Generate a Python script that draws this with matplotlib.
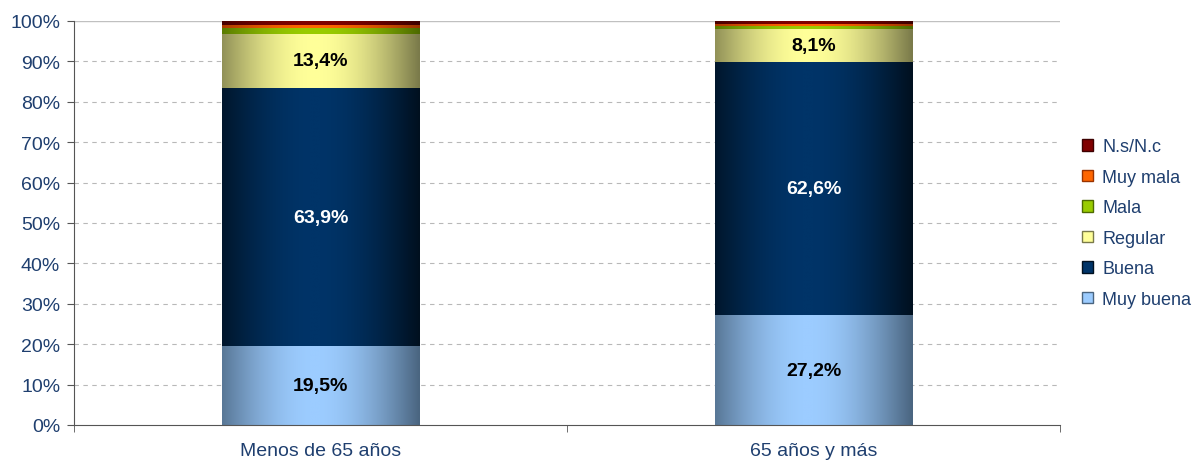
import numpy as np
import matplotlib

matplotlib.use("Agg")
import matplotlib.pyplot as plt
from matplotlib.colors import LinearSegmentedColormap
from matplotlib.patches import Patch

plt.rcParams["font.family"] = ["Liberation Sans", "DejaVu Sans"]

categories = ["Menos de 65 años", "65 años y más"]
series = ["Muy buena", "Buena", "Regular", "Mala", "Muy mala", "N.s/N.c"]
muy_buena = [19.5, 27.2]
buena = [63.9, 62.6]
regular = [13.4, 8.1]
mala = [1.5, 0.8]
muy_mala = [0.8, 0.5]
nsnc = [0.9, 0.8]
values = [muy_buena, buena, regular, mala, muy_mala, nsnc]
show_label = [True, True, True, False, False, False]

# (edge colour, centre colour) for the horizontal gradient of each series
grad = [
    ("#4a6580", "#9cccff"),
    ("#00101f", "#003468"),
    ("#7a7a4a", "#ffff99"),
    ("#4d6a00", "#99cc00"),
    ("#993300", "#ff6600"),
    ("#3d0000", "#800000"),
]
label_colors = ["black", "white", "black"]
txt_color = "#1f3f6f"

fig = plt.figure(figsize=(12.02, 4.64), dpi=100)
ax = fig.add_axes([0.0616, 0.0819, 0.8203, 0.8707])

x = np.arange(len(categories))
width = 0.4
bottom = np.zeros(len(categories))
gx = np.linspace(0, 1, 200)
profile = 1 - np.abs(gx - 0.47) / 0.53
profile = np.sin(np.clip(profile, 0, 1) * np.pi / 2)
for i, vals in enumerate(values):
    bars = ax.bar(x, vals, width, bottom=bottom, color="none", edgecolor="none")
    cmap = LinearSegmentedColormap.from_list(series[i], [grad[i][0], grad[i][1]])
    for b in bars:
        x0, y0 = b.get_x(), b.get_y()
        im = ax.imshow(
            profile[np.newaxis, :],
            cmap=cmap,
            vmin=0,
            vmax=1,
            aspect="auto",
            extent=(x0, x0 + b.get_width(), y0, y0 + b.get_height()),
            zorder=2,
            interpolation="bilinear",
        )
        im.set_clip_path(b)
    if show_label[i]:
        for xi, v, b0 in zip(x, vals, bottom):
            ax.text(
                xi,
                b0 + v / 2,
                f"{v:.1f}%".replace(".", ","),
                ha="center",
                va="center",
                fontsize=14,
                fontweight="bold",
                color=label_colors[i],
                zorder=3,
            )
    bottom += np.array(vals)

ax.set_xlim(-0.5, len(categories) - 0.5)
ax.set_ylim(0, 100)
ax.set_yticks(np.arange(0, 101, 10))
ax.set_yticklabels([f"{t}%" for t in range(0, 101, 10)])
ax.set_xticks(x)
ax.set_xticklabels(categories)
ax.set_xticks([-0.5, 0.5, 1.5], minor=True)
ax.tick_params(axis="x", which="major", length=0, labelsize=14, colors=txt_color, pad=12)
ax.tick_params(axis="x", which="minor", length=5, color="#555555")
ax.tick_params(axis="y", length=5, labelsize=14, colors=txt_color, color="#555555", pad=5)
for t in np.arange(10, 100, 10):
    ax.axhline(t, color="#b8b8b8", linestyle=(0, (4, 4)), linewidth=0.8, zorder=1)
ax.axhline(100, color="#c0c0c0", linewidth=1.0, zorder=1)
for s in ["top", "right"]:
    ax.spines[s].set_visible(False)
for s in ["left", "bottom"]:
    ax.spines[s].set_color("#555555")

handles = [Patch(facecolor=grad[i][1], edgecolor=grad[i][0], label=series[i]) for i in range(len(series))][::-1]
leg = ax.legend(
    handles=handles,
    loc="center left",
    bbox_to_anchor=(1.006, 0.5),
    frameon=False,
    fontsize=13,
    handlelength=0.6,
    handleheight=0.6,
    handletextpad=0.5,
    labelspacing=0.75,
)
for t in leg.get_texts():
    t.set_color(txt_color)

fig.savefig("out.png", dpi=100)
